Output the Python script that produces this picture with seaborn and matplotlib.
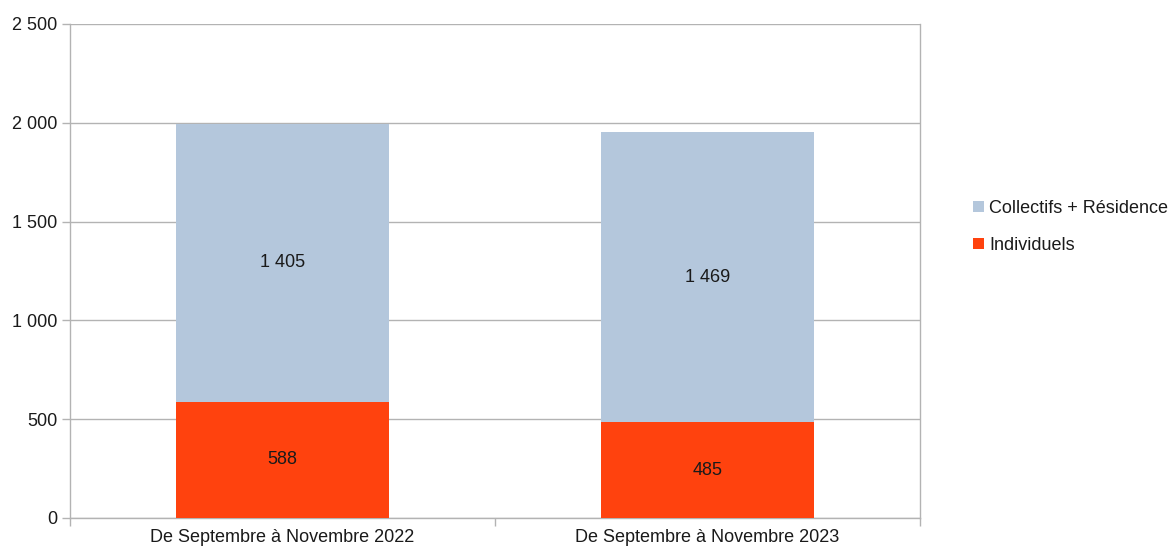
import matplotlib
matplotlib.use("Agg")
import matplotlib.pyplot as plt
import matplotlib.ticker as mticker
from matplotlib.patches import Patch
import seaborn as sns
import pandas as pd
import numpy as np

categories = ["De Septembre à Novembre 2022", "De Septembre à Novembre 2023"]
individuels = [588, 485]
collectifs = [1405, 1469]
series_names = ["Collectifs + Résidence", "Individuels"]
yticks = [0, 500, 1000, 1500, 2000, 2500]

c_coll = "#b4c7dc"
c_ind = "#ff420e"
grid_c = "#b3b3b3"
text_c = "#1a1a1a"
fs = 13

sns.set_theme(style="white")
plt.rcParams['font.family'] = ['Liberation Sans', 'DejaVu Sans']

df = pd.DataFrame({"cat": categories, "ind": individuels, "coll": collectifs})
df["total"] = df["ind"] + df["coll"]

fig = plt.figure(figsize=(11.74, 5.52), dpi=100)
ax = fig.add_axes([70/1174, 1-518/552, 850/1174, 494/552])

sns.barplot(data=df, x="cat", y="total", color=c_coll, width=0.5, ax=ax,
            linewidth=0, saturation=1, zorder=3)
sns.barplot(data=df, x="cat", y="ind", color=c_ind, width=0.5, ax=ax,
            linewidth=0, saturation=1, zorder=3)

def fmt(v):
    return f"{int(v):,}".replace(",", " ")

for i, (a, b) in enumerate(zip(individuels, collectifs)):
    ax.text(i, a/2, fmt(a), ha="center", va="center", fontsize=fs, color=text_c, zorder=4)
    ax.text(i, a + b/2, fmt(b), ha="center", va="center", fontsize=fs, color=text_c, zorder=4)

ax.set_xlim(-0.5, 1.5)
ax.set_ylim(0, 2500)
ax.set_yticks(yticks)
ax.yaxis.set_major_formatter(mticker.FuncFormatter(lambda v, p: fmt(v)))
ax.grid(axis="y", color=grid_c, linewidth=1, zorder=0)
ax.set_axisbelow(True)
ax.set_xlabel("")
ax.set_ylabel("")

for s in ["left", "right", "bottom"]:
    ax.spines[s].set_visible(True)
    ax.spines[s].set_color(grid_c)
    ax.spines[s].set_linewidth(1)
ax.spines["top"].set_visible(False)

ax.tick_params(axis="y", length=6, width=1, color=grid_c, labelsize=fs, labelcolor=text_c, pad=3, left=True)
ax.tick_params(axis="x", which="major", length=0, labelsize=fs, labelcolor=text_c, pad=8)
ax.set_xticks([-0.5, 0.5, 1.5], minor=True)
ax.tick_params(axis="x", which="minor", length=6, width=1, color=grid_c, bottom=True)

handles = [Patch(facecolor=c_coll, edgecolor="none"), Patch(facecolor=c_ind, edgecolor="none")]
fig.legend(handles, series_names, loc="center left", bbox_to_anchor=(964/1174, 1-227/552),
           frameon=False, fontsize=fs, handlelength=0.6, handleheight=0.6,
           handletextpad=0.3, labelspacing=1.1, labelcolor=text_c, borderpad=0)

fig.savefig("out.png", dpi=100)
